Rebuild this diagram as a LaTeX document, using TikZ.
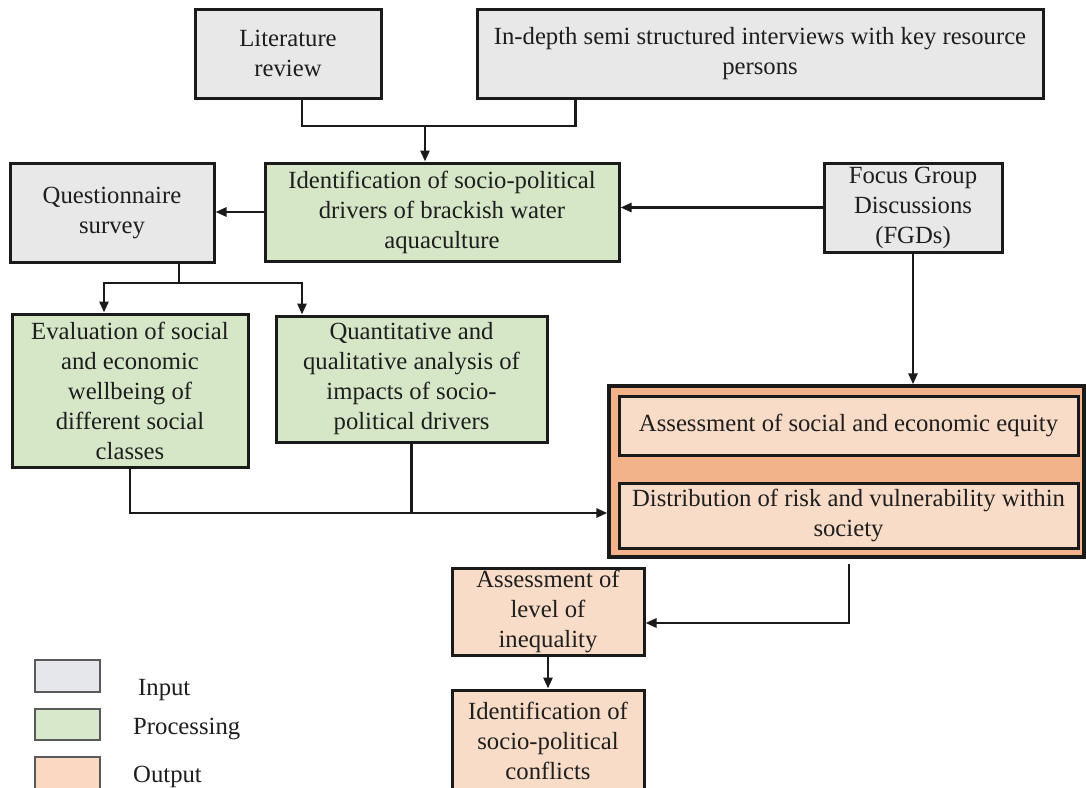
\documentclass[tikz,border=0pt]{standalone}
\usepackage{fontspec}
\setmainfont{Liberation Serif}
\usetikzlibrary{arrows.meta}

\definecolor{inputfill}{HTML}{E8E8E8}
\definecolor{procfill}{HTML}{D6E7C8}
\definecolor{outfill}{HTML}{F9DCC7}
\definecolor{outerfill}{HTML}{F3B38A}
\definecolor{edge}{HTML}{1A1A1A}
\definecolor{ink}{HTML}{1E1E1E}
\definecolor{legin}{HTML}{E5E7EA}
\definecolor{legproc}{HTML}{D7E8CB}
\definecolor{legout}{HTML}{FAD8C1}

\tikzset{
  box/.style={draw=edge, line width=3pt, rectangle, inner sep=0pt, align=center,
              text=ink, font=\fontsize{24.7}{30}\selectfont},
  inbox/.style={box, fill=inputfill},
  procbox/.style={box, fill=procfill},
  outbox/.style={box, fill=outfill},
  outerbox/.style={draw=edge, line width=3.4pt, fill=outerfill, rectangle, inner sep=0pt},
  legbox/.style={draw=black!65, line width=1.5pt, rectangle, inner sep=0pt,
                 minimum width=65pt},
  legtext/.style={anchor=west, inner sep=0pt, text=ink, font=\fontsize{24.7}{30}\selectfont},
  conn/.style={draw=edge, line width=2.7pt},
  arr/.style={conn, -{Triangle[length=11pt, width=9pt]}},
}

\begin{document}
\begin{tikzpicture}[x=1pt, y=-1pt]
  \useasboundingbox[fill=white] (0,0) rectangle (1086,787);

  % input sources
  \node[inbox, minimum width=186pt, minimum height=89pt] (lit) at (288,53.5)
    {Literature\\review};
  \node[inbox, minimum width=566pt, minimum height=89pt] (indepth) at (760,53.5)
    {In-depth semi structured interviews with key resource\\persons};
  \node[inbox, minimum width=204pt, minimum height=99pt] (quest) at (112,212.5)
    {Questionnaire\\survey};
  \node[inbox, minimum width=178pt, minimum height=89pt] (fgd) at (913,207.5)
    {Focus Group\\Discussions\\(FGDs)};

  % processing steps
  \node[procbox, minimum width=354pt, minimum height=98pt] (ident) at (442,212)
    {Identification of socio-political\\drivers of brackish water\\aquaculture};
  \node[procbox, minimum width=236pt, minimum height=153pt] (eval) at (130,390.5)
    {Evaluation of social\\and economic\\wellbeing of\\different social\\classes};
  \node[procbox, minimum width=271pt, minimum height=126pt] (quant) at (411.5,379)
    {Quantitative and\\qualitative analysis of\\impacts of socio-\\political drivers};

  % outputs
  \node[outerbox, minimum width=475pt, minimum height=171pt] (outer) at (846.5,471.5) {};
  \node[outbox, minimum width=459pt, minimum height=59pt] (equity) at (848.5,425.5)
    {Assessment of social and economic equity};
  \node[outbox, minimum width=459pt, minimum height=65pt] (risk) at (848.5,515.5)
    {Distribution of risk and vulnerability within\\society};
  \node[outbox, minimum width=192pt, minimum height=87pt] (assess) at (548,611.5)
    {Assessment of\\level of\\inequality};
  \node[outbox, minimum width=192pt, minimum height=102pt] (conflicts) at (548,741)
    {Identification of\\socio-political\\conflicts};

  % connectors
  \coordinate (tj) at (425,126);
  \draw[conn] ([xshift=14pt]lit.south) |- (tj) -| ([xshift=100pt]indepth.south west);
  \draw[arr] (tj) -- (ident.north -| tj);

  \draw[arr] (ident.west) -- (quest.east |- ident.west);
  \draw[arr] (fgd.west) -- (ident.east |- fgd.west);
  \draw[arr] (fgd.south) -- (fgd.south |- outer.north);

  \coordinate (qj) at (179,283);
  \draw[conn] ([xshift=67pt]quest.south) -- (qj);
  \draw[arr] (qj) -| ([xshift=-26pt]eval.north);
  \draw[arr] (qj) -| ([xshift=-109.5pt]quant.north);

  \coordinate (bj) at (411.5,513);
  \draw[arr] (eval.south) |- (outer.west |- bj);
  \draw[conn] (quant.south) -- (bj);

  \draw[arr] ([xshift=2.5pt,yshift=-5pt]outer.south) |- ([yshift=-11.5pt]assess.east);
  \draw[arr] (assess.south) -- (conflicts.north);

  % legend
  \node[legbox, fill=legin, minimum height=32pt] (lgin) at (67.5,676) {};
  \node[legbox, fill=legproc, minimum height=31pt] (lgproc) at (67.5,724.5) {};
  \node[legbox, fill=legout, minimum height=33pt] (lgout) at (67.5,773.5) {};
  \node[legtext] (lgintext) at (138,690) {Input};
  \node[legtext] (lgproctext) at (133,729) {Processing};
  \node[legtext] (lgouttext) at (133,777) {Output};
\end{tikzpicture}
\end{document}
